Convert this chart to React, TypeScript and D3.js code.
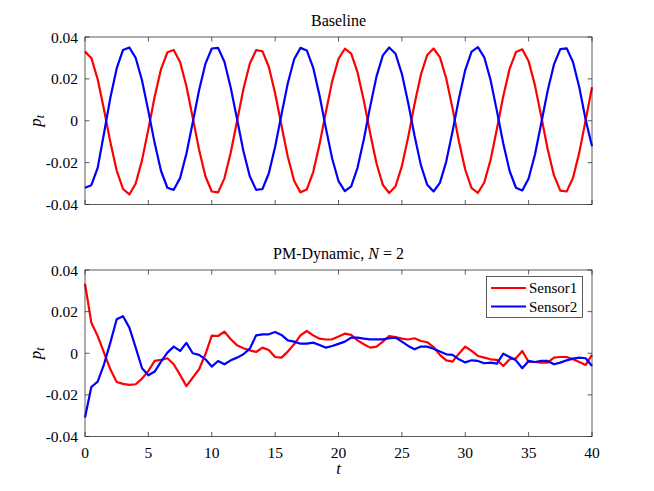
import * as d3 from "d3";
import React from "react";

// sample times (t = 0 ... 40, step 0.5)
const times = [
  0, 0.5, 1, 1.5, 2, 2.5, 3, 3.5, 4, 4.5, 5, 5.5, 6, 6.5, 7, 7.5, 8, 8.5, 9, 9.5,
  10, 10.5, 11, 11.5, 12, 12.5, 13, 13.5, 14, 14.5, 15, 15.5, 16, 16.5, 17, 17.5, 18, 18.5, 19, 19.5,
  20, 20.5, 21, 21.5, 22, 22.5, 23, 23.5, 24, 24.5, 25, 25.5, 26, 26.5, 27, 27.5, 28, 28.5, 29, 29.5,
  30, 30.5, 31, 31.5, 32, 32.5, 33, 33.5, 34, 34.5, 35, 35.5, 36, 36.5, 37, 37.5, 38, 38.5, 39, 39.5,
  40,
];

const baselineSensor1 = [
  0.033, 0.03, 0.0198, 0.0054, -0.0102, -0.0238, -0.0326, -0.0352, -0.03, -0.0188,
  -0.004, 0.0116, 0.0247, 0.0327, 0.0338, 0.0281, 0.0166, 0.0015, -0.0138, -0.0265,
  -0.0338, -0.0342, -0.0275, -0.0152, 0.0, 0.0152, 0.0272, 0.0337, 0.0332, 0.0258,
  0.0131, -0.0023, -0.0172, -0.0287, -0.0342, -0.0328, -0.0246, -0.0114, 0.0041, 0.0188,
  0.0296, 0.0344, 0.0321, 0.0232, 0.0096, -0.006, -0.0204, -0.0306, -0.0345, -0.0313,
  -0.0217, -0.0077, 0.008, 0.022, 0.0314, 0.0345, 0.0304, 0.0202, 0.0058, -0.0098,
  -0.0234, -0.0322, -0.0344, -0.0295, -0.0186, -0.0038, 0.0117, 0.0248, 0.0328, 0.0341,
  0.0284, 0.0169, 0.0019, -0.0135, -0.0261, -0.0334, -0.0338, -0.0273, -0.0151, 0.0003,
  0.016,
];

const baselineSensor2 = [
  -0.032, -0.0308, -0.0225, -0.006, 0.011, 0.025, 0.0338, 0.035, 0.03, 0.0192,
  0.0046, -0.0108, -0.024, -0.032, -0.033, -0.0274, -0.0158, -0.0008, 0.0146, 0.0272,
  0.0345, 0.0348, 0.0282, 0.0158, 0.0007, -0.0146, -0.0265, -0.033, -0.0326, -0.0252,
  -0.0124, 0.003, 0.0179, 0.0294, 0.0348, 0.0336, 0.0254, 0.0122, -0.0034, -0.018,
  -0.0288, -0.0336, -0.0313, -0.0225, -0.0088, 0.0068, 0.0212, 0.0312, 0.035, 0.032,
  0.0224, 0.0085, -0.0072, -0.0212, -0.0306, -0.0338, -0.0297, -0.0195, -0.005, 0.0106,
  0.0242, 0.033, 0.0352, 0.0303, 0.0194, 0.0046, -0.0109, -0.024, -0.032, -0.0333,
  -0.0276, -0.0161, -0.0011, 0.0143, 0.0269, 0.0342, 0.0346, 0.0281, 0.0159, 0.0005,
  -0.0122,
];

const dynamicSensor1 = [
  0.0334, 0.0147, 0.0083, 0.0003, -0.0077, -0.0138, -0.0147, -0.0152, -0.0149, -0.0122,
  -0.0085, -0.0037, -0.0032, -0.0024, -0.0053, -0.0104, -0.0158, -0.0117, -0.0077, -0.0005,
  0.0085, 0.0083, 0.0104, 0.0067, 0.0038, 0.0024, 0.0014, 0.0006, 0.0027, 0.0016,
  -0.0018, -0.0021, 0.0008, 0.0043, 0.0086, 0.0107, 0.0086, 0.007, 0.0066, 0.0067,
  0.008, 0.0094, 0.0088, 0.0062, 0.0043, 0.0027, 0.0032, 0.0056, 0.0083, 0.0078,
  0.007, 0.0066, 0.0072, 0.0059, 0.0053, 0.003, -0.0008, -0.0034, -0.004, -0.0002,
  0.0032, 0.0011, -0.0013, -0.0021, -0.0029, -0.0032, -0.0061, -0.0029, -0.0024, 0.0011,
  -0.0042, -0.0042, -0.0045, -0.0045, -0.0021, -0.0018, -0.0018, -0.0029, -0.0042, -0.0056,
  -0.0008,
];

const dynamicSensor2 = [
  -0.0309, -0.0162, -0.0136, -0.0053, 0.0051, 0.0163, 0.0178, 0.0123, 0.0027, -0.0072,
  -0.0106, -0.0088, -0.004, 0.0003, 0.0032, 0.0011, 0.005, 0.0, -0.0008, -0.0029,
  -0.0064, -0.0037, -0.0053, -0.0034, -0.0021, -0.0005, 0.0022, 0.0086, 0.0091, 0.0091,
  0.0102, 0.0088, 0.0062, 0.0056, 0.0046, 0.0046, 0.0051, 0.004, 0.0027, 0.0035,
  0.0045, 0.0056, 0.0075, 0.0075, 0.007, 0.0067, 0.0067, 0.0067, 0.0072, 0.0075,
  0.0056, 0.0035, 0.0019, 0.0032, 0.0032, 0.0022, 0.0008, -0.0005, -0.0008, -0.0029,
  -0.0044, -0.0034, -0.0037, -0.0048, -0.0045, -0.005, -0.0002, -0.0018, -0.0034, -0.0072,
  -0.0037, -0.0042, -0.0037, -0.0037, -0.0053, -0.0045, -0.0034, -0.0026, -0.0021, -0.0024,
  -0.0061,
];

const xTicks = [0, 5, 10, 15, 20, 25, 30, 35, 40];
const yTicks = [-0.04, -0.02, 0, 0.02, 0.04];
const yTickLabels = ["-0.04", "-0.02", "0", "0.02", "0.04"];
const seriesNames = ["Sensor1", "Sensor2"];
const seriesColors = ["#ff0000", "#0000ff"];

const width = 654;
const height = 491;
const left = 85;
const right = 592;
const font = "'Liberation Serif', 'DejaVu Serif', serif";
const axisColor = "#262626";
const tickLen = 4.5;
const tickFont = 15.5;

const x = d3.scaleLinear().domain([0, 40]).range([left, right]);

function Panel({ top, bottom, title, s1, s2, showX, legend }: any) {
  const y = d3.scaleLinear().domain([-0.04, 0.04]).range([bottom, top]);
  const line = d3
    .line<number>()
    .x((d, i) => x(times[i]))
    .y((d) => y(d));
  const midY = (top + bottom) / 2;

  return (
    <g>
      {/* data */}
      {[s1, s2].map((s: number[], i: number) => (
        <path
          key={i}
          d={line(s) as string}
          fill="none"
          stroke={seriesColors[i]}
          strokeWidth={2.2}
          strokeLinejoin="round"
        />
      ))}
      {/* box */}
      <rect
        x={left}
        y={top}
        width={right - left}
        height={bottom - top}
        fill="none"
        stroke={axisColor}
        strokeWidth={0.75}
      />
      {/* x ticks */}
      {xTicks.map((t) => (
        <g key={"x" + t}>
          <line x1={x(t)} x2={x(t)} y1={bottom} y2={bottom - tickLen} stroke={axisColor} strokeWidth={0.75} />
          <line x1={x(t)} x2={x(t)} y1={top} y2={top + tickLen} stroke={axisColor} strokeWidth={0.75} />
          {showX && (
            <text
              x={x(t)}
              y={bottom + 21}
              textAnchor="middle"
              fontSize={tickFont}
              fontFamily={font}
              fill="#000"
            >
              {t}
            </text>
          )}
        </g>
      ))}
      {/* y ticks */}
      {yTicks.map((v, i) => (
        <g key={"y" + i}>
          <line x1={left} x2={left + tickLen} y1={y(v)} y2={y(v)} stroke={axisColor} strokeWidth={0.75} />
          <line x1={right} x2={right - tickLen} y1={y(v)} y2={y(v)} stroke={axisColor} strokeWidth={0.75} />
          <text
            x={left - 7}
            y={y(v) + 5.5}
            textAnchor="end"
            fontSize={tickFont}
            fontFamily={font}
            fill="#000"
          >
            {yTickLabels[i]}
          </text>
        </g>
      ))}
      {/* y label */}
      <text
        transform={`translate(41,${midY}) rotate(-90)`}
        textAnchor="middle"
        fontFamily={font}
        fill="#000"
      >
        <tspan fontSize={17} fontStyle="italic">p</tspan>
        <tspan fontSize={12} fontStyle="italic" dy={3}>t</tspan>
      </text>
      {/* title */}
      <text
        x={(left + right) / 2}
        y={top - 11}
        textAnchor="middle"
        fontSize={16}
        fontFamily={font}
        fill="#000"
      >
        {title}
      </text>
      {legend && (
        <g>
          <rect x={486.5} y={276.5} width={96} height={41} fill="#fff" stroke={axisColor} strokeWidth={0.75} />
          {seriesNames.map((n, i) => (
            <g key={n}>
              <line
                x1={491}
                x2={526}
                y1={288 + i * 18.5}
                y2={288 + i * 18.5}
                stroke={seriesColors[i]}
                strokeWidth={2.2}
              />
              <text x={529} y={293 + i * 18.5} fontSize={15} fontFamily={font} fill="#000">
                {n}
              </text>
            </g>
          ))}
        </g>
      )}
    </g>
  );
}

export default function App() {
  return (
    <svg
      width={width}
      height={height}
      viewBox={`0 0 ${width} ${height}`}
      style={{ position: "absolute", left: 0, top: 0, background: "#fff" }}
    >
      <Panel top={37} bottom={204.5} title="Baseline" s1={baselineSensor1} s2={baselineSensor2} showX={false} />
      <Panel
        top={270}
        bottom={436.5}
        title={
          <>
            PM-Dynamic, <tspan fontStyle="italic">N</tspan>
            <tspan dx={4}>=</tspan>
            <tspan dx={4}>2</tspan>
          </>
        }
        s1={dynamicSensor1}
        s2={dynamicSensor2}
        showX={true}
        legend={true}
      />
      <text x={(left + right) / 2} y={474} textAnchor="middle" fontSize={17} fontStyle="italic" fontFamily={font} fill="#000">
        t
      </text>
    </svg>
  );
}
